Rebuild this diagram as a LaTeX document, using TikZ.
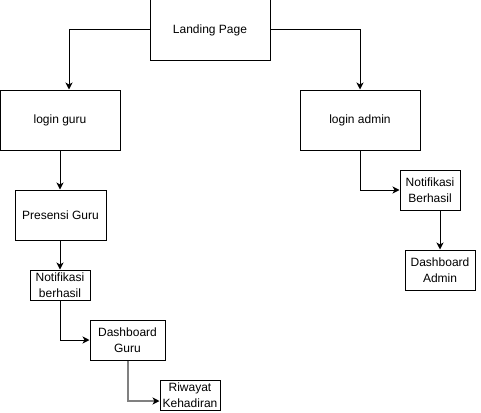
\documentclass[tikz,border=0pt]{standalone}
\usepackage{fontspec}
\setmainfont{Liberation Sans}
\usetikzlibrary{arrows.meta}
\begin{document}
\begin{tikzpicture}[x=1pt,y=-1pt,
  box/.style={draw=black,line width=1pt,inner sep=0pt,align=center,font=\fontsize{12}{16}\selectfont},
  conn/.style={draw=black,line width=1pt,-{Stealth[length=7pt,width=7pt,inset=2pt]}},
  gconn/.style={draw=black!50,line width=2pt,-{Stealth[length=7pt,width=7pt,inset=2pt,black,line width=1pt]}}]
\useasboundingbox (0,0) rectangle (481,412);
\node[box,minimum width=120pt,minimum height=60pt] (landing) at (210,30) {Landing Page};
\node[box,minimum width=120pt,minimum height=60pt] (lguru) at (60,120) {login guru};
\node[box,minimum width=120pt,minimum height=60pt] (ladmin) at (360,120) {login admin};
\node[box,minimum width=91pt,minimum height=50pt] (presensi) at (60.5,215) {Presensi Guru};
\node[box,minimum width=60pt,minimum height=30pt] (nguru) at (60,285) {Notifikasi\\berhasil};
\node[box,minimum width=75pt,minimum height=40pt] (dguru) at (127.5,340) {Dashboard\\Guru};
\node[box,minimum width=60pt,minimum height=30pt] (riwayat) at (190,395) {Riwayat\\Kehadiran};
\node[box,minimum width=60pt,minimum height=40pt] (nadmin) at (430,190) {Notifikasi\\Berhasil};
\node[box,minimum width=70pt,minimum height=40pt] (dadmin) at (440,270) {Dashboard\\Admin};
\draw[conn] (landing.west) -| ([xshift=9pt]lguru.north);
\draw[conn] (landing.east) -| (ladmin.north);
\draw[conn] (lguru.south) -- (lguru.south |- presensi.north);
\draw[conn] (nguru.north |- presensi.south) -- (nguru.north);
\draw[conn] (nguru.south) |- (dguru.west);
\draw[gconn] (dguru.south) |- ([yshift=-6pt]riwayat.west);
\draw[conn] (ladmin.south) |- (nadmin.west);
\draw[conn] (dadmin.north |- nadmin.south) -- (dadmin.north);
\end{tikzpicture}
\end{document}
